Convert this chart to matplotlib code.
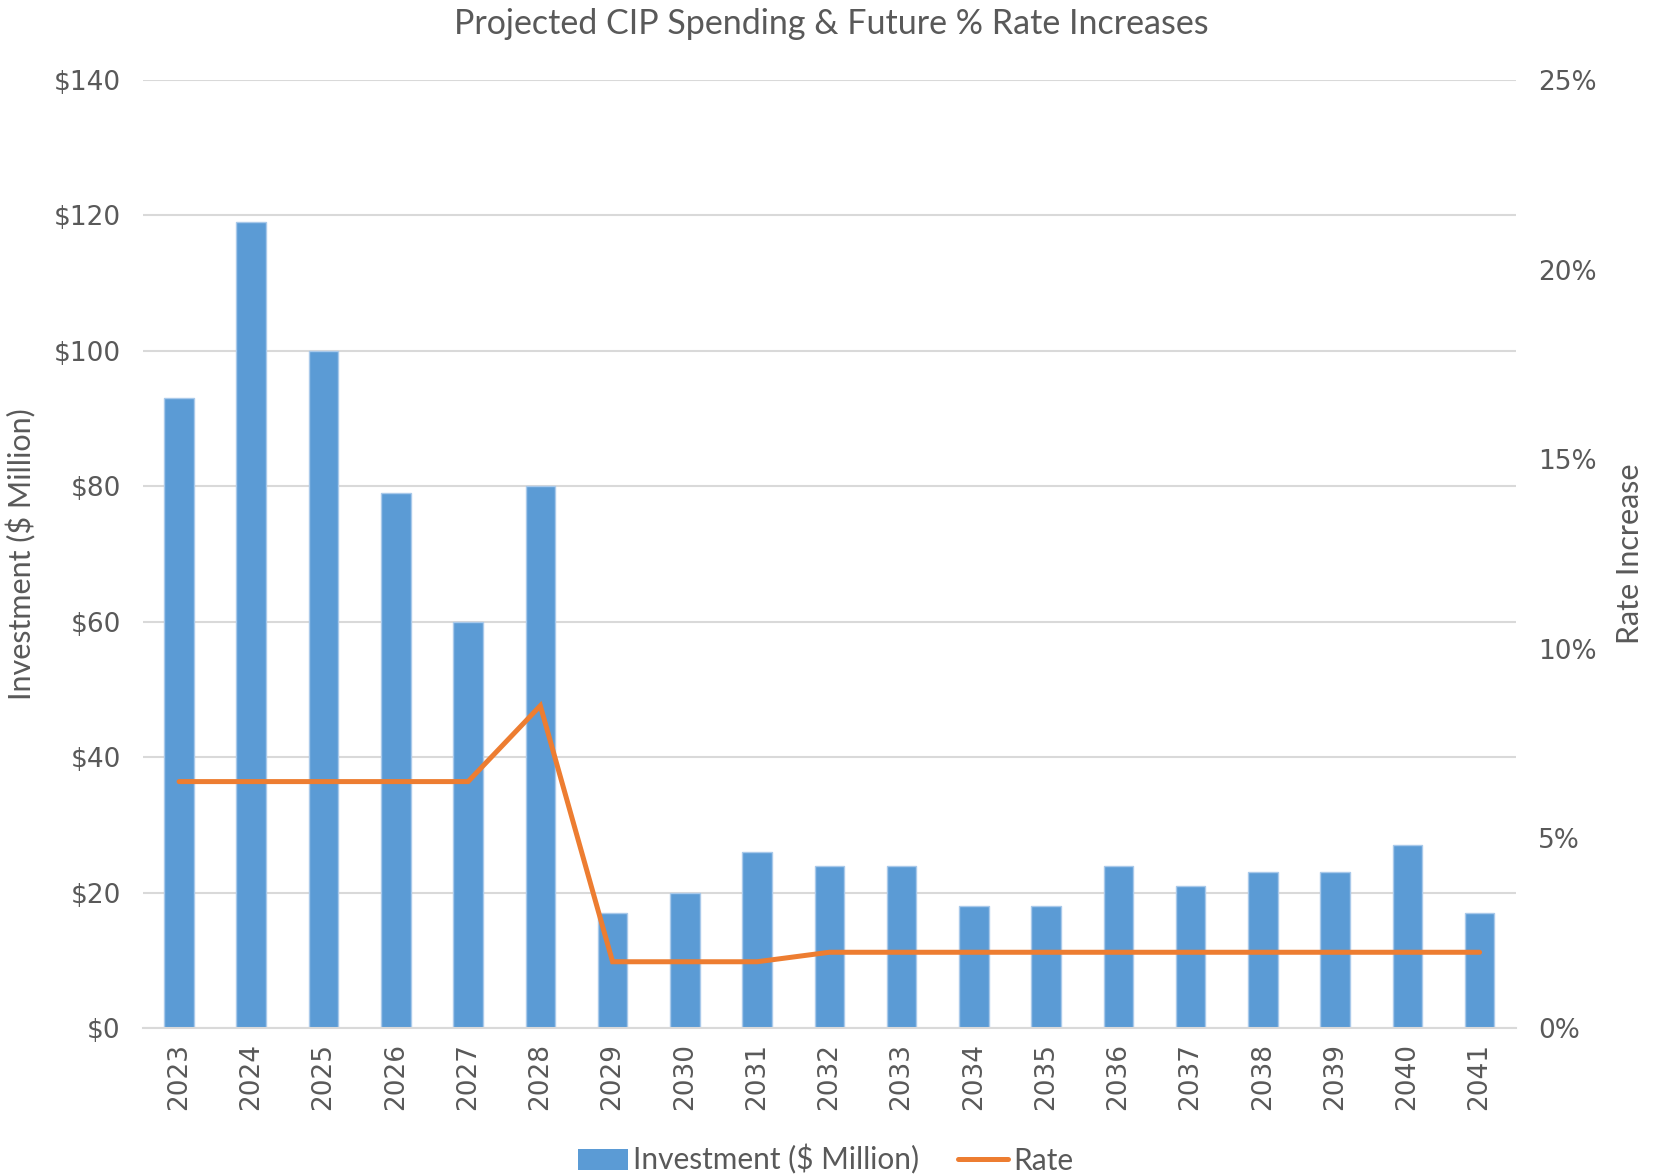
import numpy as np
import matplotlib.pyplot as plt
from matplotlib.lines import Line2D
from matplotlib.patches import Patch

years = ['2023', '2024', '2025', '2026', '2027', '2028', '2029', '2030', '2031', '2032',
         '2033', '2034', '2035', '2036', '2037', '2038', '2039', '2040', '2041']
investment = [93, 119, 100, 79, 60, 80, 17, 20, 26, 24, 24, 18, 18, 24, 21, 23, 23, 27, 17]
rate = [6.5, 6.5, 6.5, 6.5, 6.5, 8.5, 1.75, 1.75, 1.75, 2.0, 2.0, 2.0, 2.0, 2.0, 2.0, 2.0, 2.0, 2.0, 2.0]
left_ticks = [0, 20, 40, 60, 80, 100, 120, 140]
right_ticks = [0, 5, 10, 15, 20, 25]

blue = '#5B9BD5'
orange = '#ED7D31'
grey_txt = '#595959'
grid_c = '#D9D9D9'
narrow = ['Lato', 'DejaVu Sans']
plt.rcParams['font.family'] = ['DejaVu Sans']

fig = plt.figure(figsize=(16.62, 11.75), dpi=100)
ax = fig.add_axes([0.086, 0.125, 0.826, 0.807])
ax2 = ax.twinx()

x = np.arange(len(years))
ax.bar(x, investment, width=0.41, color=blue, edgecolor='#A9C9EA', linewidth=1, zorder=2)
ax.set_xlim(-0.5, len(years) - 0.5)
ax.set_ylim(0, 140)
ax.set_yticks(left_ticks)
ax.set_yticklabels(['$%d' % v for v in left_ticks], family='DejaVu Sans')
ax.set_xticks(x)
ax.set_xticklabels(years, rotation=90, family='DejaVu Sans')
ax.grid(axis='y', color=grid_c, linewidth=1.5, zorder=0)
ax.set_axisbelow(True)
ax.tick_params(length=0, labelsize=19, labelcolor=grey_txt, pad=11)
ax.tick_params(axis='y', pad=16)
for s in ['top', 'left', 'right']:
    ax.spines[s].set_visible(False)
ax.spines['bottom'].set_color(grid_c)
ax.spines['bottom'].set_linewidth(1.5)
ax.set_ylabel('Investment ($ Million)', fontsize=22, color=grey_txt, family=narrow, labelpad=12)

ax2.plot(x, rate, color=orange, linewidth=3.6, solid_capstyle='round', solid_joinstyle='miter', zorder=3)
ax2.set_ylim(0, 25)
ax2.set_yticks(right_ticks)
ax2.set_yticklabels(['%d%%' % v for v in right_ticks], family='DejaVu Sans')
ax2.tick_params(length=0, labelsize=19, labelcolor=grey_txt, pad=16)
for s in ['top', 'left', 'right', 'bottom']:
    ax2.spines[s].set_visible(False)
ax2.set_ylabel('Rate Increase', fontsize=22, color=grey_txt, family=narrow, labelpad=14)

fig.suptitle('Projected CIP Spending & Future % Rate Increases', y=0.993, fontsize=24.5,
             color=grey_txt, family=narrow)

handles = [Patch(facecolor=blue, edgecolor='none'),
           Line2D([0], [0], color=orange, linewidth=3.6, solid_capstyle='round')]
leg = fig.legend(handles, ['Investment ($ Million)', 'Rate'], loc='center',
                 bbox_to_anchor=(0.497, 0.013), ncol=2, frameon=False,
                 prop={'family': narrow, 'size': 21.5}, handlelength=1.65, handletextpad=0.2,
                 columnspacing=1.3)
for t in leg.get_texts():
    t.set_color(grey_txt)

fig.savefig('out.png', dpi=100)
